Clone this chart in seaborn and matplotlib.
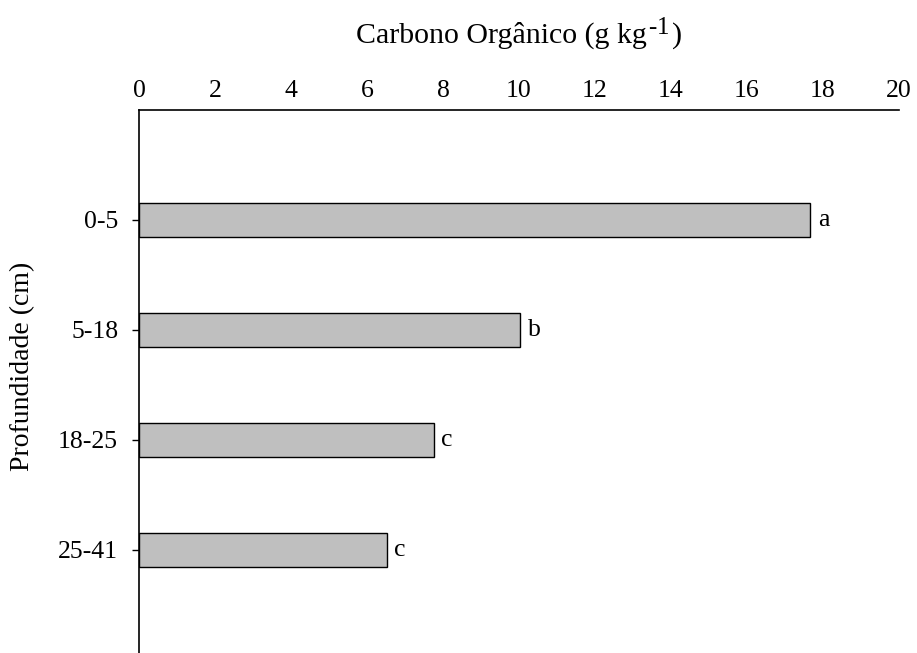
import matplotlib
matplotlib.use("Agg")
import matplotlib.pyplot as plt
import seaborn as sns
import pandas as pd

categories = ["0-5", "5-18", "18-25", "25-41"]
values = [17.66, 10.03, 7.75, 6.52]
letters = ["a", "b", "c", "c"]
xticks = [0, 2, 4, 6, 8, 10, 12, 14, 16, 18, 20]

sns.set_theme(style="white")
plt.rcParams["font.family"] = ["Liberation Serif", "DejaVu Serif"]

df = pd.DataFrame({"prof": categories, "c": values})

W, H = 917, 653
fig = plt.figure(figsize=(W / 100, H / 100), dpi=100)
ax = fig.add_axes([139 / W, -7 / H, (899 - 139) / W, (660 - 110) / H])
sns.barplot(data=df, x="c", y="prof", orient="h", color="#BFBFBF",
            edgecolor="black", linewidth=1.0, width=0.31, saturation=1, ax=ax)

ax.set_xlim(0, 20)
ax.set_ylim(4, -1)
ax.set_xticks(xticks)
ax.set_xticklabels([str(t) for t in xticks])
ax.xaxis.tick_top()
ax.tick_params(axis="x", length=0, pad=6, labelsize=18.5, colors="black")
ax.tick_params(axis="y", length=5, width=1, direction="out", pad=10, labelsize=18.5,
               colors="black", left=True)
ax.set_xlabel("")
ax.set_ylabel("")

for side in ["right", "bottom"]:
    ax.spines[side].set_visible(False)
for side in ["top", "left"]:
    ax.spines[side].set_visible(True)
    ax.spines[side].set_color("black")
    ax.spines[side].set_linewidth(1.2)

for i, (v, l) in enumerate(zip(values, letters)):
    ax.text(v + 0.2, i, l, va="center", ha="left", fontsize=18.5, color="black")

# y label
fig.text(23 / W, 1 - 366 / H, "Profundidade (cm)", rotation=90, ha="center",
         va="center", fontsize=20, color="black")

# x title with large superscript
renderer = fig.canvas.get_renderer()
base = 1 - 43 / H
sup = base + 9 / H
t1 = fig.text(0, base, "Carbono Orgânico (g kg", fontsize=21.5, va="baseline", color="black")
t2a = fig.text(0, sup, "-", fontsize=18, va="baseline", color="black")
t2b = fig.text(0, sup, "1", fontsize=18, va="baseline", color="black")
t3 = fig.text(0, base, ")", fontsize=21.5, va="baseline", color="black")
w1 = t1.get_window_extent(renderer).width
w3 = t3.get_window_extent(renderer).width
offs = [0, w1 + 1, w1 + 10, w1 + 25]
total = offs[-1] + w3
start = 519 - total / 2
for t, o in zip([t1, t2a, t2b, t3], offs):
    t.set_x((start + o) / W)

fig.savefig("out.png", dpi=100)
